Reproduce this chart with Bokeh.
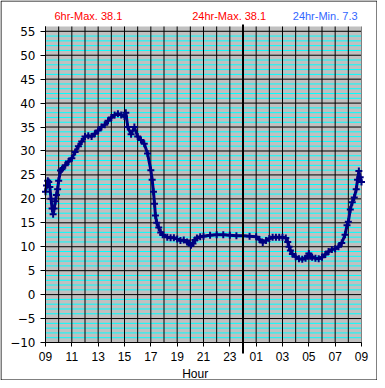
from bokeh.plotting import figure
from bokeh.models import Range1d, FixedTicker, SingleIntervalTicker
from bokeh.core.properties import value
from bokeh.embed import file_html
from bokeh.resources import INLINE

# hours since 09:00 and temperature readings
hours = [0.00, 0.08, 0.17, 0.25, 0.33, 0.42, 0.50, 0.58, 0.66, 0.75, 0.83, 0.92,
         1.00, 1.14, 1.25, 1.50, 1.75, 2.00, 2.25, 2.50, 2.75, 3.00, 3.25, 3.50,
         3.75, 4.00, 4.25, 4.50, 4.75, 5.00, 5.25, 5.50, 5.75, 6.00, 6.10, 6.25,
         6.50, 6.75, 7.00, 7.25, 7.50, 7.75, 8.00, 8.10, 8.20, 8.28, 8.35, 8.45,
         8.60, 8.75, 8.90, 9.25, 9.50, 9.75, 10.00, 10.25, 10.50, 10.75, 10.90, 11.05,
         11.20, 11.35, 11.50, 11.75, 12.00, 12.50, 13.00, 13.50, 14.00, 14.50, 15.00, 15.50,
         16.00, 16.25, 16.50, 16.75, 17.00, 17.25, 17.50, 17.75, 18.00, 18.25, 18.40, 18.50,
         18.60, 18.75, 19.00, 19.25, 19.50, 19.75, 19.90, 20.00, 20.10, 20.25, 20.50, 20.75,
         21.00, 21.25, 21.50, 21.75, 22.00, 22.25, 22.50, 22.75, 22.90, 23.00, 23.15, 23.30,
         23.45, 23.60, 23.70, 23.80, 23.90, 24.00]
temps = [21.5, 22.8, 23.8, 23.5, 22.5, 20.0, 18.0, 16.8, 18.0, 19.5, 20.8, 22.0,
         23.8, 25.9, 26.2, 27.0, 27.8, 28.5, 29.8, 31.0, 32.0, 33.0, 33.2, 33.0,
         33.6, 34.3, 35.0, 35.5, 36.3, 37.0, 37.5, 37.8, 37.5, 37.2, 38.0, 35.0,
         33.5, 35.0, 33.0, 32.3, 31.5, 29.5, 26.0, 24.0, 21.5, 19.0, 16.5, 15.0,
         14.0, 13.0, 12.5, 12.0, 11.9, 11.9, 11.6, 11.3, 11.4, 11.0, 10.8, 10.3,
         10.7, 11.4, 11.8, 12.1, 12.2, 12.4, 12.5, 12.5, 12.4, 12.3, 12.3, 12.2,
         12.1, 11.5, 10.9, 11.3, 11.7, 12.0, 12.0, 12.0, 12.0, 11.8, 11.0, 10.0,
         9.2, 8.5, 7.9, 7.5, 7.4, 7.6, 8.0, 8.6, 8.0, 7.8, 7.6, 7.5,
         7.8, 8.4, 9.0, 9.4, 9.6, 10.0, 10.8, 12.5, 14.5, 15.2, 17.8, 19.3,
         20.3, 22.0, 24.0, 25.8, 24.5, 23.5]

tick_hours = [0, 2, 4, 6, 8, 10, 12, 14, 16, 18, 20, 22, 24]
tick_labels = ["09", "11", "13", "15", "17", "19", "21", "23", "01", "03", "05", "07", "09"]
midnight_hour = 15
stat_texts = ["6hr-Max. 38.1", "24hr-Max. 38.1", "24hr-Min. 7.3"]
stat_colors = ["#ff0000", "#ff0000", "#3366ff"]

y_lo, y_hi = -10, 56          # temperature scale of the plot area
x_lo, x_hi = tick_hours[0], tick_hours[-1]
W, H = 377, 380               # canvas size
L, T, PW, PH = 45, 26, 316, 316   # plot-area placement on the canvas
PX = PH / (y_hi - y_lo)       # pixels per degree
PY = PW / (x_hi - x_lo)       # pixels per hour

xr = Range1d(x_lo - L / PY, x_hi + (W - L - PW) / PY)
yr = Range1d(y_lo - (H - T - PH) / PX, y_hi + T / PX)
p = figure(width=W, height=H, output_backend="svg", toolbar_location=None,
           x_range=xr, y_range=yr,
           min_border_left=0, min_border_right=0, min_border_top=0, min_border_bottom=0)
p.background_fill_color = "white"
p.border_fill_color = "white"
p.outline_line_color = None
p.xgrid.visible = False
p.ygrid.visible = False

# outer frame of the picture
p.quad(left=xr.start + 0.5 / PY, right=xr.end - 0.5 / PY, bottom=yr.start + 0.5 / PX,
       top=yr.end - 0.5 / PX, fill_color=None, line_color="black", line_width=1)

# plot area background and grid
p.quad(left=x_lo, right=x_hi, bottom=y_lo, top=y_hi, fill_color="#c0c0c0", line_color=None)
minor = [v for v in range(y_lo, y_hi) if v % 5 != 0]
major = [v for v in range(y_lo, y_hi) if v % 5 == 0]
p.segment(x0=[x_lo] * len(minor), x1=[x_hi] * len(minor), y0=minor, y1=minor,
          line_color="#00ffff", line_width=1)
p.segment(x0=[x_lo] * len(major), x1=[x_hi] * len(major), y0=major, y1=major,
          line_color="black", line_width=1)
vgrid = list(range(x_lo, x_hi))
p.segment(x0=vgrid, x1=vgrid, y0=[y_lo] * len(vgrid), y1=[y_hi] * len(vgrid),
          line_color="black", line_width=1)
p.segment(x0=[x_hi], x1=[x_hi], y0=[y_lo], y1=[y_hi], line_color="#808080", line_width=1)

# axes
p.yaxis.fixed_location = x_lo
p.yaxis.ticker = SingleIntervalTicker(interval=5)
p.yaxis.bounds = (y_lo, y_hi)
p.yaxis.minor_tick_line_color = None
p.yaxis.major_tick_out = 5
p.yaxis.major_tick_in = 0
p.yaxis.major_label_standoff = 5
p.yaxis.major_label_text_font = "DejaVu Sans"
p.yaxis.major_label_text_font_size = "12px"
p.yaxis.major_label_text_color = "black"
p.yaxis.axis_line_color = "black"

p.xaxis.fixed_location = y_lo
p.xaxis.ticker = FixedTicker(ticks=tick_hours)
p.xaxis.bounds = (x_lo, x_hi)
p.xaxis.major_label_overrides = {h: l for h, l in zip(tick_hours, tick_labels)}
p.xaxis.minor_tick_line_color = None
p.xaxis.major_tick_out = 4
p.xaxis.major_tick_in = 0
p.xaxis.major_label_standoff = 5
p.xaxis.major_label_text_font = "Liberation Sans"
p.xaxis.major_label_text_font_size = "12px"
p.xaxis.major_label_text_color = "black"
p.xaxis.axis_line_color = "black"

# data
p.line(hours, temps, line_color="#000080", line_width=3)
p.scatter(hours, temps, marker="cross", size=7, line_color="#000080", line_width=2)

# midnight separator
p.segment(x0=[midnight_hour], x1=[midnight_hour], y0=[y_lo - 11 / PX], y1=[y_hi + 2 / PX],
          line_color="black", line_width=2)

# header stats
p.text(x=[0.68, 11.14, 18.78], y=[y_hi + 10.5 / PX] * 3, text=stat_texts,
       text_color=stat_colors, text_font=value("Liberation Sans"),
       text_font_size=value("11px"), text_baseline="middle", text_align="left")

# axis title
p.text(x=[11.37], y=[y_lo - 31 / PX], text=["Hour"], text_color="black",
       text_font=value("Liberation Sans"), text_font_size=value("12px"),
       text_baseline="middle", text_align="center")

open("out.html", "w").write(file_html(p, INLINE))
